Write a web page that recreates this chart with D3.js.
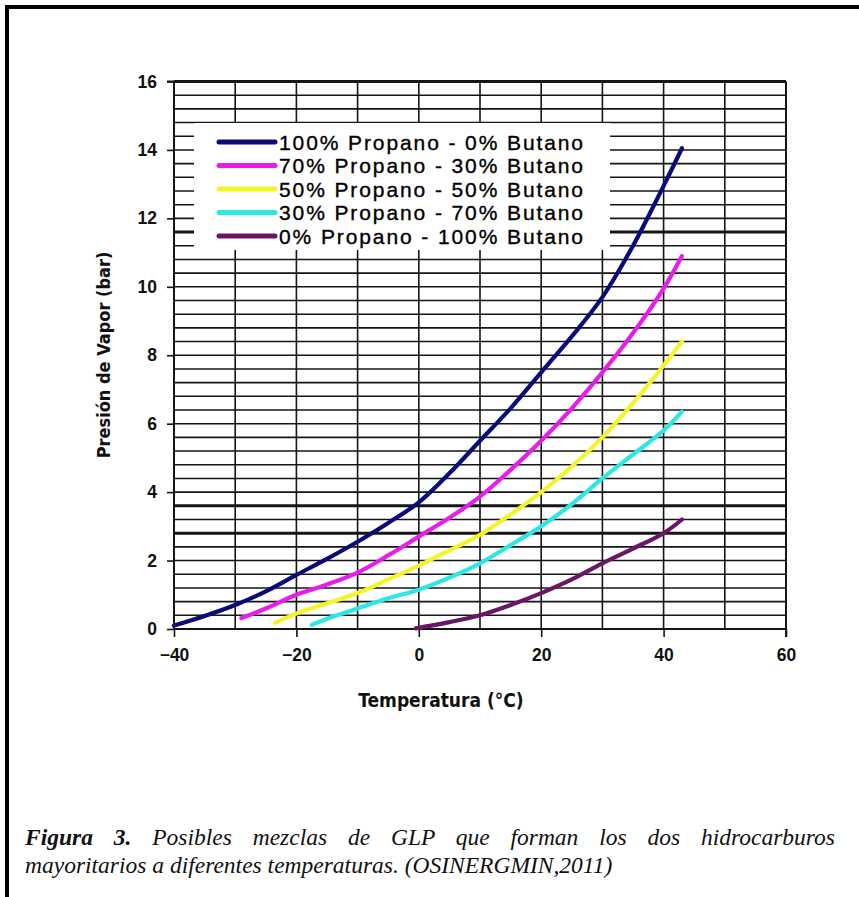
<!DOCTYPE html>
<html><head><meta charset="utf-8">
<script src="https://cdnjs.cloudflare.com/ajax/libs/d3/7.8.5/d3.min.js"></script>
<style>
html,body{margin:0;padding:0;background:#fff;overflow:hidden}
svg{display:block}
</style></head>
<body>
<svg id="c" width="859" height="897"></svg>
<script>
// ---- data ----
const seriesNames = ["100% Propano - 0% Butano","70% Propano - 30% Butano","50% Propano - 50% Butano","30% Propano - 70% Butano","0% Propano - 100% Butano"];
const seriesColors = ["#0a0a78","#e81ee8","#f4f42a","#2ee6e6","#6a1666"];
const t100 = [-40,-35,-30,-25,-20,-15,-10,-5,0,5,10,15,20,25,30,35,40,43];
const p100 = [0.1,0.38,0.7,1.1,1.58,2.05,2.55,3.1,3.7,4.55,5.5,6.45,7.5,8.55,9.7,11.2,12.95,14.05];
const t70 = [-29,-25,-20,-15,-10,-5,0,5,10,15,20,25,30,35,40,43];
const p70 = [0.32,0.6,1.0,1.3,1.65,2.15,2.7,3.25,3.87,4.65,5.5,6.45,7.5,8.65,9.95,10.9];
const t50 = [-23.5,-20,-15,-10,-5,0,5,10,15,20,25,30,35,40,43];
const p50 = [0.18,0.45,0.75,1.05,1.45,1.85,2.3,2.75,3.35,4.0,4.75,5.6,6.6,7.7,8.4];
const t30 = [-17.5,-15,-10,-5,0,5,10,15,20,25,30,35,40,43];
const p30 = [0.12,0.3,0.6,0.9,1.15,1.5,1.92,2.45,3.0,3.65,4.4,5.1,5.8,6.35];
const t0 = [-0.5,5,10,15,20,25,30,35,40,43];
const p0 = [0.02,0.2,0.4,0.7,1.05,1.45,1.92,2.35,2.8,3.2];
const xTicks = [-40,-20,0,20,40,60];
const xGrid = [-30,-20,-10,0,10,20,30,40,50];
const yTicks = [0,2,4,6,8,10,12,14,16];
const yGridStep = 0.4;
const yThick = [2.8,3.6,11.6];
const xTitle = "Temperatura (°C)";
const yTitle = "Presión de Vapor (bar)";
const captionBold = "Figura 3.";
const caption1 = " Posibles mezclas de GLP que forman los dos hidrocarburos";
const caption2 = "mayoritarios a diferentes temperaturas. (OSINERGMIN,2011)";

const series = [[t100,p100],[t70,p70],[t50,p50],[t30,p30],[t0,p0]].map((d,i)=>({
  name: seriesNames[i], color: seriesColors[i],
  pts: d[0].map((t,j)=>({t, p: d[1][j]}))
}));

// ---- layout ----
const svg = d3.select("#c");
const L = 174, R = 786, T = 81.5, B = 629;
const x = d3.scaleLinear().domain([-40,60]).range([L,R]);
const y = d3.scaleLinear().domain([0,16]).range([B,T]);

// outer frame
svg.append("path").attr("d","M7,900 L7,7 L870,7").attr("fill","none").attr("stroke","#000").attr("stroke-width",4);

const g = svg.append("g");
const axisFont = "'Liberation Sans', Arial, sans-serif";
const titleFont = "'DejaVu Sans Condensed','DejaVu Sans',sans-serif";

// horizontal grid
const nH = Math.round(16 / yGridStep);
const hVals = d3.range(0, nH + 1).map(i => +(i * yGridStep).toFixed(2));
g.selectAll("line.h").data(hVals).join("line").attr("class","h")
  .attr("x1",L).attr("x2",R).attr("y1",d=>y(d)).attr("y2",d=>y(d))
  .attr("stroke","#151515")
  .attr("stroke-width",d=> (yThick.includes(d) || d===16) ? 3 : 1.6);

// vertical grid
g.selectAll("line.v").data(xGrid).join("line").attr("class","v")
  .attr("x1",d=>x(d)).attr("x2",d=>x(d)).attr("y1",y(16)).attr("y2",B)
  .attr("stroke","#151515").attr("stroke-width",1.6);

// right border
g.append("line").attr("x1",R).attr("x2",R).attr("y1",y(16)).attr("y2",B+8)
  .attr("stroke","#151515").attr("stroke-width",2);

// axes via d3
const yAxis = d3.axisLeft(y).tickValues(yTicks).tickSize(7).tickPadding(10).tickFormat(d3.format("d"));
const ya = g.append("g").attr("transform",`translate(${L},0)`).call(yAxis);
ya.select(".domain").attr("stroke","#151515").attr("stroke-width",2).attr("d",`M-7,${T}H0V${B}`);
ya.selectAll(".tick line").attr("stroke","#151515").attr("stroke-width",1.6);
ya.selectAll(".tick text").attr("font-family",axisFont).attr("font-weight","bold").attr("font-size",17.5).attr("fill","#111");

const xAxis = d3.axisBottom(x).tickValues(xTicks).tickSize(8).tickPadding(12).tickFormat(d3.format("d"));
const xa = g.append("g").attr("transform",`translate(0,${B})`).call(xAxis);
xa.select(".domain").attr("stroke","#151515").attr("stroke-width",2).attr("d",`M${L},0H${R}`);
xa.selectAll(".tick line").attr("stroke","#151515").attr("stroke-width",1.6);
xa.selectAll(".tick text").attr("font-family",axisFont).attr("font-weight","bold").attr("font-size",17.5).attr("fill","#111");

// curves
const line = d3.line().x(d=>x(d.t)).y(d=>y(d.p)).curve(d3.curveCatmullRom.alpha(0.5));
g.selectAll("path.s").data(series).join("path").attr("class","s")
  .attr("d",d=>line(d.pts)).attr("fill","none")
  .attr("stroke",d=>d.color).attr("stroke-width",4.2).attr("stroke-linecap","round");

// legend
const lg = g.append("g");
lg.append("rect").attr("x",194).attr("y",123).attr("width",416).attr("height",127).attr("fill","#fff");
const rowY = d3.scaleLinear().domain([0,4]).range([142,236]);
const items = lg.selectAll("g.it").data(series).join("g").attr("class","it")
  .attr("transform",(d,i)=>`translate(0,${rowY(i)})`);
items.append("line").attr("x1",219).attr("x2",275).attr("y1",0).attr("y2",0)
  .attr("stroke",d=>d.color).attr("stroke-width",5).attr("stroke-linecap","round");
items.append("text").attr("x",279).attr("y",0).attr("dy","0.36em")
  .attr("font-family",axisFont).attr("font-size",21).attr("letter-spacing",1.9).attr("fill","#000")
  .attr("stroke","#000").attr("stroke-width",0.35)
  .text(d=>d.name);

// axis titles
g.append("text").attr("x",441).attr("y",707).attr("text-anchor","middle")
  .attr("font-family",titleFont).attr("font-weight","bold").attr("font-size",19).attr("fill","#111").text(xTitle);
g.append("text").attr("transform","translate(110,355) rotate(-90)").attr("text-anchor","middle")
  .attr("font-family",titleFont).attr("font-weight","bold").attr("font-size",18).attr("fill","#111").text(yTitle);

// caption
const cap = svg.append("g").attr("font-family","'Liberation Serif','Times New Roman',serif").attr("font-size",23.5).attr("font-style","italic").attr("fill","#111");
const c1 = cap.append("text").attr("x",25).attr("y",845);
c1.append("tspan").attr("font-weight","bold").text(captionBold);
c1.append("tspan").text(caption1);
const natural = c1.node().getComputedTextLength();
const gaps = (captionBold + caption1).split(" ").length - 1;
c1.attr("word-spacing", Math.max(0, (810 - natural) / gaps));
cap.append("text").attr("x",25).attr("y",873).text(caption2);
</script>
</body></html>
